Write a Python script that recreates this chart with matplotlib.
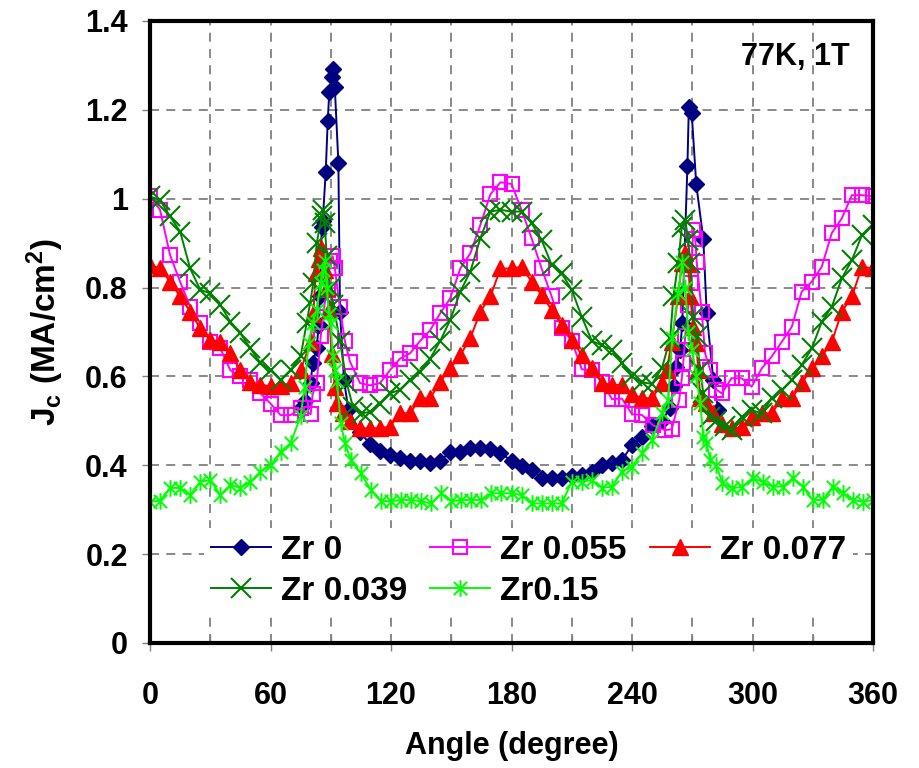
import matplotlib
matplotlib.use("Agg")
import matplotlib.pyplot as plt
from matplotlib.path import Path
from matplotlib.ticker import MultipleLocator

# ---------------- data ----------------
zr0_angle = [75, 77, 80, 81, 83, 84, 84.6, 85.5, 86, 87.5, 88.5, 89.3, 90.5, 91.3, 92, 93.8, 94.6,
             96.6, 98.8, 104.6, 109.5, 114.5, 119.5, 124.5, 129.5, 134.5, 139.5, 144.5, 149.5,
             154.5, 159.5, 164.5, 169.5, 174.5, 180, 185, 190, 195, 200, 205, 210, 215, 220, 225,
             230, 235, 240, 245, 250, 255, 259, 261, 262, 264, 265, 267.6, 268.3, 269.7, 272,
             275.5, 277.2, 280.5, 283]
zr0_jc = [0.53, 0.545, 0.585, 0.63, 0.665, 0.716, 0.78, 0.937, 0.95, 1.06, 1.176, 1.241, 1.275,
          1.293, 1.252, 1.081, 0.746, 0.592, 0.524, 0.476, 0.447, 0.432, 0.423, 0.416, 0.41, 0.409,
          0.406, 0.409, 0.431, 0.431, 0.438, 0.44, 0.436, 0.428, 0.41, 0.398, 0.389, 0.372, 0.372,
          0.372, 0.376, 0.378, 0.386, 0.40, 0.405, 0.411, 0.446, 0.463, 0.489, 0.50, 0.53, 0.578,
          0.622, 0.66, 0.72, 1.074, 1.207, 1.194, 1.032, 0.91, 0.742, 0.592, 0.524]

zr055_angle = [0, 5, 10, 15, 20, 25, 30, 35, 40, 45, 50, 55, 60, 65, 70, 75, 80, 81, 83, 85, 87,
               88.5, 89.6, 91, 92, 94.5, 97, 99.6, 104.6, 109.5, 114.5, 119.5, 124.5, 129.5,
               134.5, 139.5, 144.5, 149.5, 154.5, 159.5, 164.5, 169.5, 174.5, 180, 185, 190, 195,
               200, 205, 210, 215, 220, 225, 230, 235, 240, 245, 250.5, 256.5, 259.8, 263.5,
               264.8, 265.5, 266.5, 268, 269.3, 270.5, 271.5, 272.2, 274.7, 276.4, 279, 282,
               284.7, 289.6, 294.6, 299.6, 304.6, 309.6, 314.6, 319.6, 324.5, 329.5, 334.5,
               339.5, 344.5, 349.5, 354.5, 360]
zr055_jc = [1.005, 0.975, 0.873, 0.813, 0.757, 0.72, 0.678, 0.663, 0.614, 0.60, 0.592, 0.562,
            0.539, 0.513, 0.513, 0.528, 0.515, 0.56, 0.585, 0.69, 0.765, 0.795, 0.86, 0.87, 0.845,
            0.757, 0.68, 0.633, 0.585, 0.58, 0.585, 0.614, 0.64, 0.652, 0.68, 0.704, 0.742,
            0.776, 0.843, 0.877, 0.941, 1.01, 1.037, 1.033, 0.975, 0.911, 0.843, 0.78, 0.708,
            0.68, 0.616, 0.614, 0.588, 0.549, 0.55, 0.515, 0.513, 0.49, 0.479, 0.481, 0.547,
            0.596, 0.63, 0.69, 0.76, 0.81, 0.93, 0.91, 0.858, 0.746, 0.652, 0.614, 0.57, 0.562,
            0.596, 0.596, 0.577, 0.618, 0.645, 0.678, 0.712, 0.791, 0.813, 0.847, 0.923, 0.956,
            1.008, 1.008, 1.005]

zr077_angle = [0, 5, 10, 15, 20, 25, 30, 35, 40, 45, 50, 55, 60, 65, 70, 75, 80, 81.3, 82.5, 84,
               85, 86, 87, 88, 89, 90.5, 92, 93, 96.3, 99.6, 104.6, 109.5, 114.5, 119.5, 124.5,
               129.5, 134.5, 139.5, 144.5, 149.5, 154.5, 159.5, 164.5, 169.5, 174.5, 180, 185,
               190, 195, 200, 205, 210, 215, 220, 225, 230, 235, 240, 245, 250, 255, 257.3,
               259.8, 263, 264.8, 266.5, 268, 269, 270.5, 272, 273, 274, 277, 280.5, 284.7,
               289.6, 294.6, 299.6, 304.6, 309.6, 314.6, 319.6, 324.5, 329.5, 334.5, 339.5,
               344.5, 349.5, 354.5, 360]
zr077_jc = [0.851, 0.843, 0.813, 0.78, 0.746, 0.708, 0.682, 0.678, 0.652, 0.614, 0.588, 0.581,
            0.578, 0.578, 0.585, 0.614, 0.678, 0.74, 0.832, 0.865, 0.89, 0.88, 0.84, 0.80, 0.75,
            0.65, 0.577, 0.54, 0.517, 0.50, 0.483, 0.483, 0.484, 0.487, 0.517, 0.517, 0.551,
            0.551, 0.588, 0.618, 0.648, 0.686, 0.746, 0.78, 0.843, 0.843, 0.847, 0.813, 0.783,
            0.75, 0.716, 0.682, 0.648, 0.618, 0.585, 0.581, 0.581, 0.56, 0.551, 0.551, 0.585,
            0.614, 0.678, 0.78, 0.855, 0.877, 0.853, 0.78, 0.712, 0.675, 0.614, 0.551, 0.54,
            0.517, 0.494, 0.483, 0.486, 0.509, 0.517, 0.517, 0.551, 0.551, 0.585, 0.618, 0.645,
            0.678, 0.746, 0.78, 0.847, 0.843]

zr039_angle = [0, 5, 10, 15, 20, 25, 30, 35, 40, 45, 50, 55, 60, 65, 70, 75, 78, 79.7, 81.3, 83,
               85.5, 86.3, 87, 88, 89.5, 91.3, 94.6, 98, 101, 105.4, 109.5, 114.5, 119.5, 124.5,
               129.5, 134.5, 139.5, 144.5, 149.5, 154.5, 159.5, 164.5, 169.5, 174.5, 180, 185,
               190, 195, 200, 205, 210, 215, 220, 225, 230, 235, 240, 245, 250, 255, 259, 260.6,
               263, 264.8, 266.5, 268, 269, 270.5, 272.2, 274, 275.5, 279, 282, 286.3, 289.6,
               294.6, 299.6, 304.6, 309.6, 314.6, 319.6, 324.5, 329.5, 334.5, 339.5, 344.5,
               349.5, 354.5, 360]
zr039_jc = [1.005, 0.997, 0.96, 0.926, 0.843, 0.795, 0.787, 0.761, 0.723, 0.697, 0.663, 0.63,
            0.614, 0.592, 0.614, 0.645, 0.72, 0.765, 0.81, 0.90, 0.96, 0.975, 0.945, 0.87, 0.80,
            0.76, 0.68, 0.585, 0.532, 0.517, 0.52, 0.539, 0.562, 0.57, 0.592, 0.61, 0.64, 0.68,
            0.727, 0.791, 0.836, 0.911, 0.971, 0.975, 0.971, 0.971, 0.945, 0.907, 0.851, 0.832,
            0.795, 0.734, 0.68, 0.67, 0.66, 0.63, 0.60, 0.587, 0.583, 0.62, 0.686, 0.78, 0.855,
            0.937, 0.952, 0.907, 0.855, 0.734, 0.69, 0.614, 0.562, 0.509, 0.50, 0.488, 0.479,
            0.509, 0.524, 0.517, 0.551, 0.569, 0.592, 0.626, 0.663, 0.723, 0.757, 0.821, 0.862,
            0.918, 0.941]

zr15_angle = [0, 5, 10, 15, 20, 25, 30, 35, 40, 45, 50, 55, 60, 65, 70, 75, 77, 79, 81, 83, 85,
              86, 87, 88, 89, 90, 91, 92, 93, 95, 97, 100, 105, 110, 115, 120, 125, 130, 135,
              140, 145, 150, 155, 160, 165, 170, 175, 180, 185, 190, 195, 200, 205, 210, 215,
              220, 225, 230, 235, 240, 245, 250, 255, 258, 260, 263, 265, 266.5, 268, 270, 272,
              274, 275.5, 277, 279, 282, 285, 290, 295, 300, 305, 310, 315, 320, 325, 330, 335,
              340, 345, 350, 355, 360]
zr15_jc = [0.318, 0.32, 0.349, 0.349, 0.333, 0.363, 0.367, 0.333, 0.356, 0.349, 0.363, 0.386,
           0.40, 0.43, 0.45, 0.51, 0.577, 0.675, 0.72, 0.75, 0.81, 0.84, 0.86, 0.80, 0.74, 0.72,
           0.645, 0.615, 0.59, 0.495, 0.45, 0.412, 0.382, 0.344, 0.32, 0.319, 0.322, 0.322,
           0.319, 0.314, 0.337, 0.319, 0.322, 0.322, 0.322, 0.337, 0.337, 0.337, 0.333, 0.314,
           0.314, 0.314, 0.314, 0.363, 0.363, 0.367, 0.349, 0.352, 0.386, 0.397, 0.427, 0.457,
           0.517, 0.548, 0.686, 0.788, 0.858, 0.80, 0.70, 0.66, 0.60, 0.54, 0.464, 0.45, 0.412,
           0.40, 0.36, 0.348, 0.352, 0.371, 0.363, 0.352, 0.352, 0.371, 0.352, 0.322, 0.322,
           0.352, 0.337, 0.322, 0.318, 0.322]

x_ticks = [0, 60, 120, 180, 240, 300, 360]
y_ticks = [0, 0.2, 0.4, 0.6, 0.8, 1.0, 1.2, 1.4]
y_tick_labels = ["0", "0.2", "0.4", "0.6", "0.8", "1", "1.2", "1.4"]

# ---------------- style ----------------
FONT = "Liberation Sans"
plt.rcParams["font.family"] = [FONT, "DejaVu Sans"]
plt.rcParams["font.weight"] = "bold"
plt.rcParams["mathtext.fontset"] = "custom"
plt.rcParams["mathtext.rm"] = FONT + ":bold"
plt.rcParams["mathtext.bf"] = FONT + ":bold"
plt.rcParams["mathtext.it"] = FONT + ":bold"

asterisk = Path([(0, -1), (0, 1), (-0.8, -0.8), (0.8, 0.8), (-0.8, 0.8), (0.8, -0.8)],
                [Path.MOVETO, Path.LINETO] * 3)

fig = plt.figure(figsize=(9.19, 7.68), dpi=100)
ax = fig.add_axes([150 / 919, 1 - 643 / 768, 723 / 919, 622 / 768])

lw = 1.4
h0, = ax.plot(zr0_angle, zr0_jc, color="#000080", lw=lw, marker="D", ms=8,
              mfc="#000080", mec="#000080", label="Zr 0", zorder=3)
h1, = ax.plot(zr055_angle, zr055_jc, color="#FF00FF", lw=lw, marker="s", ms=10.5,
              mfc="none", mec="#FF00FF", mew=1.5, label="Zr 0.055", zorder=4)
h2, = ax.plot(zr077_angle, zr077_jc, color="#FF0000", lw=lw, marker="^", ms=11,
              mfc="#FF0000", mec="#FF0000", label="Zr 0.077", zorder=5)
h3, = ax.plot(zr039_angle, zr039_jc, color="#008000", lw=lw, marker="x", ms=15,
              mew=1.5, mec="#008000", label="Zr 0.039", zorder=6)
h4, = ax.plot(zr15_angle, zr15_jc, color="#00FF00", lw=lw, marker=asterisk, ms=12,
              mew=1.4, mec="#00FF00", mfc="none", label="Zr0.15", zorder=7)

ax.set_xlim(0, 360)
ax.set_ylim(0, 1.4)
ax.xaxis.set_major_locator(MultipleLocator(60))
ax.xaxis.set_minor_locator(MultipleLocator(30))
ax.set_yticks(y_ticks)
ax.set_yticklabels(y_tick_labels)
ax.set_xticks(x_ticks)

grid_kw = dict(color="#808080", linestyle=(0, (5, 4)), linewidth=1.3)
ax.grid(True, which="both", axis="x", **grid_kw)
ax.grid(True, which="major", axis="y", **grid_kw)
ax.set_axisbelow(True)

for s in ax.spines.values():
    s.set_linewidth(3)
    s.set_color("black")
    s.set_zorder(10)

ax.tick_params(axis="x", which="major", direction="out", length=6, width=1,
               color="#808080", pad=21, labelsize=22)
ax.tick_params(axis="x", which="minor", direction="in", length=6, width=1,
               color="#808080")
ax.tick_params(axis="y", which="major", direction="out", length=6, width=1,
               color="#808080", pad=10, labelsize=22)
for lab in ax.get_xticklabels() + ax.get_yticklabels():
    lab.set_fontweight("bold")

ax.set_xlabel("Angle (degree)", fontsize=22, fontweight="bold", labelpad=15)
ax.set_ylabel(r"J$_{\mathbf{c}}$ (MA/cm$^{\mathbf{2}}$)", fontsize=24, fontweight="bold",
              labelpad=14)

ax.text(0.968, 0.942, "77K, 1T", transform=ax.transAxes, ha="right", va="center",
        fontsize=22, fontweight="bold")

leg = ax.legend(handles=[h0, h3, h1, h4, h2], ncol=3, loc="upper left",
                bbox_to_anchor=(0.075, 0.185), frameon=True, fancybox=False,
                edgecolor="none", facecolor="white", framealpha=1,
                prop={"family": FONT, "weight": "bold", "size": 24},
                handlelength=1.8, handletextpad=0.3, columnspacing=0.7,
                labelspacing=0.3, borderpad=0.2, borderaxespad=0)
leg.set_zorder(8)

fig.savefig("out.png", dpi=100)
